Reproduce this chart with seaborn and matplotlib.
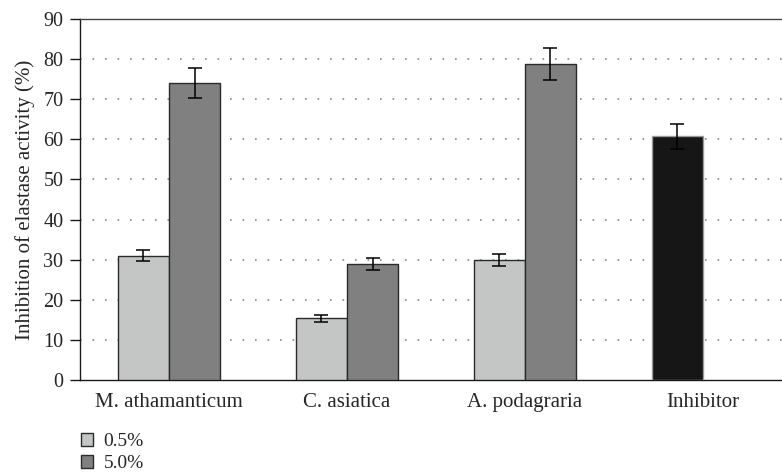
import pandas as pd
import seaborn as sns
import matplotlib.pyplot as plt
from matplotlib.patches import Patch

# datos
extracts = ['M. athamanticum', 'C. asiatica', 'A. podagraria', 'Inhibitor']
conc_levels = ['0.5%', '5.0%']
inhib_05 = [31.0, 15.4, 29.8, 60.8]
inhib_50 = [74.0, 28.9, 78.8, None]
err_05 = [1.4, 0.9, 1.5, 3.1]
err_50 = [3.7, 1.4, 3.9, None]

rows = []
for i, ext in enumerate(extracts):
    rows.append({'extract': ext, 'conc': '0.5%', 'value': inhib_05[i], 'err': err_05[i]})
    if inhib_50[i] is not None:
        rows.append({'extract': ext, 'conc': '5.0%', 'value': inhib_50[i], 'err': err_50[i]})
df = pd.DataFrame(rows)

sns.set_style('white')
plt.rcParams['font.family'] = ['Liberation Serif', 'DejaVu Serif']

fig = plt.figure(figsize=(7.82, 4.72), dpi=100)
ax = fig.add_axes([80 / 782, 1 - 380 / 472, 1 - 80 / 782, (380 - 19) / 472])

colores = {'0.5%': '#c4c6c5', '5.0%': '#808080'}
sns.barplot(data=df, x='extract', y='value', hue='conc', hue_order=conc_levels,
            order=extracts, palette=colores, width=0.575, errorbar=None,
            edgecolor='#2a2a2a', linewidth=1.0, legend=False, ax=ax, zorder=3)

# barras de error y color del inhibidor
for patch in ax.patches:
    h = patch.get_height()
    if h != h or h == 0:
        continue
    xc = patch.get_x() + patch.get_width() / 2
    match = df[(df['value'] - h).abs() < 1e-6]
    e = match['err'].iloc[0]
    if match['extract'].iloc[0] == 'Inhibitor':
        patch.set_facecolor('#161616')
        patch.set_edgecolor('#9a9a9a')
    ax.errorbar(xc, h, yerr=e, color='black', linewidth=1.1, capsize=4.8,
                capthick=1.1, zorder=4)

ax.set_ylim(0, 90)
ax.set_xlim(-0.5, 3.445)
ax.set_yticks(range(0, 91, 10))
ax.yaxis.grid(True, linestyle=(0, (1, 6.5)), linewidth=1.2, color='#888888', zorder=0)
ax.xaxis.grid(False)
ax.set_axisbelow(True)
for gl in ax.get_ygridlines()[:1] + ax.get_ygridlines()[-1:]:
    gl.set_visible(False)

for s in ['left', 'bottom', 'top']:
    ax.spines[s].set_visible(True)
    ax.spines[s].set_color('#1a1a1a')
    ax.spines[s].set_linewidth(1.0)
ax.spines['right'].set_visible(False)
ax.spines['top'].set_color('#444444')

ax.tick_params(axis='y', which='both', left=True, length=7, width=1.0,
               direction='out', labelsize=14.5, pad=5, color='#1a1a1a')
ax.tick_params(axis='x', bottom=False, labelsize=15, pad=6)
ax.set_xlabel('')
ax.set_ylabel('Inhibition of elastase activity (%)', fontsize=15, labelpad=6)

handles = [Patch(facecolor=colores[c], edgecolor='#2a2a2a', linewidth=1.0) for c in conc_levels]
fig.legend(handles, conc_levels, loc='upper left', bbox_to_anchor=(81 / 782, 1 - 433 / 472),
           frameon=False, handlelength=0.62, handleheight=0.62, handletextpad=0.55,
           labelspacing=0.25, borderaxespad=0, borderpad=0,
           prop={'family': 'Liberation Serif', 'size': 14})

fig.savefig('out.png', dpi=100)
